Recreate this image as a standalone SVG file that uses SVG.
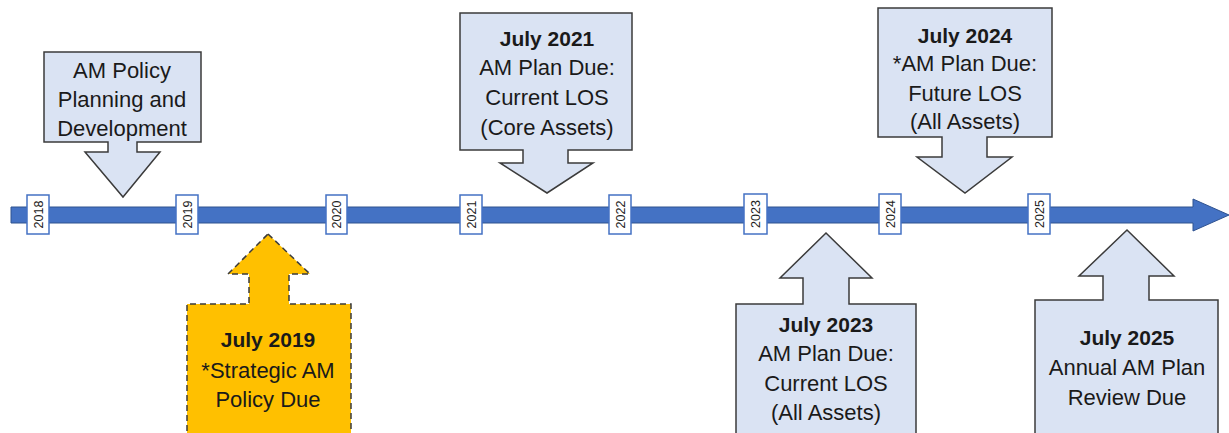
<svg xmlns="http://www.w3.org/2000/svg" width="1229" height="433" viewBox="0 0 1229 433">
  <style>
    .callout { fill: #DAE3F3; stroke: #3B3B3B; stroke-width: 1.5; stroke-linejoin: miter; }
    .callout-key { fill: #FFC000; stroke: #3B3B3B; stroke-width: 1.5; stroke-dasharray: 6 4; }
    .txt { font-family: "Liberation Sans", Arial, sans-serif; font-size: 22px; fill: #1A1A1A; text-anchor: middle; }
    .bold { font-weight: bold; font-size: 21px; }
    .tick { fill: #FFFFFF; stroke: #4472C4; stroke-width: 1.5; }
    .tick-label { font-family: "Liberation Sans", Arial, sans-serif; font-size: 12.5px; fill: #222222; text-anchor: middle; }
  </style>

  <!-- Timeline axis -->
  <g id="timeline-axis">
    <polygon points="11,207 1193,207 1193,199 1229,215 1193,231 1193,223 11,223" fill="#4472C4" stroke="#2F528F" stroke-width="1"/>
  </g>

  <!-- Year markers -->
  <g id="year-markers">
    <g id="year-2018"><rect class="tick" x="27" y="195" width="22" height="39"/><text class="tick-label" transform="translate(42.5,214.5) rotate(-90)">2018</text></g>
    <g id="year-2019"><rect class="tick" x="176" y="195" width="22" height="39"/><text class="tick-label" transform="translate(191.5,214.5) rotate(-90)">2019</text></g>
    <g id="year-2020"><rect class="tick" x="326" y="195" width="21" height="39"/><text class="tick-label" transform="translate(341,214.5) rotate(-90)">2020</text></g>
    <g id="year-2021"><rect class="tick" x="460" y="195" width="22" height="39"/><text class="tick-label" transform="translate(475.5,214.5) rotate(-90)">2021</text></g>
    <g id="year-2022"><rect class="tick" x="609" y="195" width="22" height="39"/><text class="tick-label" transform="translate(624.5,214.5) rotate(-90)">2022</text></g>
    <g id="year-2023"><rect class="tick" x="744" y="194" width="23" height="40"/><text class="tick-label" transform="translate(760,214) rotate(-90)">2023</text></g>
    <g id="year-2024"><rect class="tick" x="879" y="194" width="22" height="40"/><text class="tick-label" transform="translate(894.5,214) rotate(-90)">2024</text></g>
    <g id="year-2025"><rect class="tick" x="1028" y="194" width="22" height="40"/><text class="tick-label" transform="translate(1043.5,214) rotate(-90)">2025</text></g>
  </g>

  <!-- Down-pointing callouts above the axis -->
  <g id="am-policy-planning">
    <polygon class="callout" points="44,52 201,52 201,142 137,142 137,152 160,152 123,197 85,152 108,152 108,142 44,142"/>
    <text class="txt" x="122" y="78">AM Policy</text>
    <text class="txt" x="122" y="107">Planning and</text>
    <text class="txt" x="122" y="136">Development</text>
  </g>

  <g id="july-2021">
    <polygon class="callout" points="460,13 632,13 632,150 568,150 568,163 593,163 547,193 500,163 523,163 523,150 460,150"/>
    <text class="txt bold" x="547" y="46">July 2021</text>
    <text class="txt" x="547" y="75">AM Plan Due:</text>
    <text class="txt" x="547" y="105">Current LOS</text>
    <text class="txt" x="547" y="135">(Core Assets)</text>
  </g>

  <g id="july-2024">
    <polygon class="callout" points="878,8 1052,8 1052,137 987,137 987,157 1012,157 965,193 917,157 942,157 942,137 878,137"/>
    <text class="txt bold" x="965" y="43">July 2024</text>
    <text class="txt" x="965" y="71">*AM Plan Due:</text>
    <text class="txt" x="965" y="101">Future LOS</text>
    <text class="txt" x="965" y="129">(All Assets)</text>
  </g>

  <!-- Up-pointing callouts below the axis -->
  <g id="july-2019">
    <polygon class="callout-key" points="268,234 310,274 289,274 289,304 351,304 351,440 187,440 187,304 249,304 249,274 228,274"/>
    <text class="txt bold" x="268" y="347">July 2019</text>
    <text class="txt" x="268" y="378">*Strategic AM</text>
    <text class="txt" x="268" y="407">Policy Due</text>
  </g>

  <g id="july-2023">
    <polygon class="callout" points="826,233 872,278 849,278 849,304 916,304 916,440 736,440 736,304 803,304 803,278 780,278"/>
    <text class="txt bold" x="826" y="332">July 2023</text>
    <text class="txt" x="826" y="361">AM Plan Due:</text>
    <text class="txt" x="826" y="391">Current LOS</text>
    <text class="txt" x="826" y="420">(All Assets)</text>
  </g>

  <g id="july-2025">
    <polygon class="callout" points="1127,230 1174,276 1149,276 1149,300 1218,300 1218,440 1035,440 1035,300 1103,300 1103,276 1079,276"/>
    <text class="txt bold" x="1127" y="345">July 2025</text>
    <text class="txt" x="1127" y="375">Annual AM Plan</text>
    <text class="txt" x="1127" y="405">Review Due</text>
  </g>
</svg>
